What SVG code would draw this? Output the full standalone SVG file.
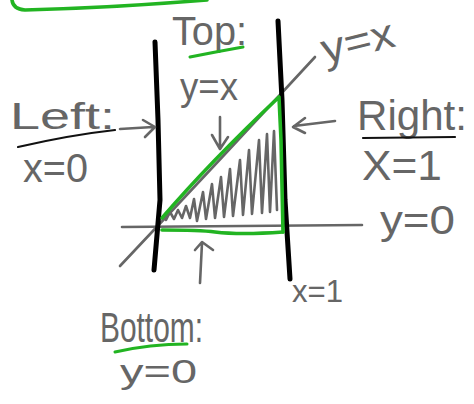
<svg xmlns="http://www.w3.org/2000/svg" width="474" height="404" viewBox="0 0 474 404">
<style>
.g{fill:none;stroke:#666;stroke-width:2.6;stroke-linecap:round;stroke-linejoin:round}
.k{fill:none;stroke:#000;stroke-width:5;stroke-linecap:round;stroke-linejoin:round}
.kt{fill:none;stroke:#111;stroke-width:2.2;stroke-linecap:round}
.gr{fill:none;stroke:#22b422;stroke-width:3.6;stroke-linecap:round;stroke-linejoin:round}
.grt{fill:none;stroke:#22b422;stroke-width:3;stroke-linecap:round}
.t{font-family:"Liberation Sans","DejaVu Sans",sans-serif;fill:#666}
</style>
<rect width="474" height="404" fill="#fff"/>
<g id="box-top">
<path class="gr" d="M12,0 Q13,9 25,10 Q110,8 207,0"/>
</g>
<g id="axes">
<path class="g" d="M120,266 Q220,160 315,57"/>
<path class="g" d="M122,227 L362,225"/>
<path class="k" d="M155,42 L158,120 L160,200 L154,270"/>
<path class="k" d="M278,21 L282,100 L285,200 L290,279"/>
</g>
<g id="region">
<path class="g" stroke-width="2" d="M166,220 L170,212 L174,219 L178,210 L182,218 L186,206 L190,218 L194,199 L197,221 L203,192 L206,219 L212,184 L215,218 L221,177 L224,217 L230,169 L233,216 L240,160 L243,215 L249,150 L252,214 L259,140 L262,213 L267,134 L270,212 L274,131 L277,210"/>
<path class="gr" d="M162,218 Q210,162 279,97 L281,140 L283,232"/>
<path class="gr" d="M162,230 Q200,230 215,232 Q240,235 283,232"/>
</g>
<g id="top-label">
<text class="t" x="172" y="45" font-size="40" textLength="75" lengthAdjust="spacingAndGlyphs">Top:</text>
<path class="grt" d="M190,57 Q215,52 243,47"/>
<text class="t" x="180" y="100" font-size="38" textLength="58" lengthAdjust="spacingAndGlyphs">y=x</text>
</g>
<g id="line-label">
<text class="t" x="325" y="64" font-size="42" textLength="74" lengthAdjust="spacingAndGlyphs" transform="rotate(-14 325 64)">y=x</text>
</g>
<g id="left-label">
<text class="t" x="10" y="129" font-size="37" textLength="105" lengthAdjust="spacingAndGlyphs">Left:</text>
<path class="kt" d="M18,147 Q70,135 115,130"/>
<text class="t" x="23" y="182" font-size="40" textLength="65" lengthAdjust="spacingAndGlyphs">x=0</text>
</g>
<g id="right-label">
<text class="t" x="357" y="130" font-size="42" textLength="110" lengthAdjust="spacingAndGlyphs">Right:</text>
<path class="kt" d="M363,138 L455,137"/>
<text class="t" x="362" y="180" font-size="42" textLength="80" lengthAdjust="spacingAndGlyphs">X=1</text>
</g>
<g id="y0-label">
<text class="t" x="380" y="234" font-size="40" textLength="75" lengthAdjust="spacingAndGlyphs">y=0</text>
</g>
<g id="x1-label">
<text class="t" x="292" y="302" font-size="32" textLength="51" lengthAdjust="spacingAndGlyphs">x=1</text>
</g>
<g id="bottom-label">
<text class="t" x="100" y="342" font-size="42" textLength="103" lengthAdjust="spacingAndGlyphs">Bottom:</text>
<path class="grt" d="M115,352 Q150,344 187,344"/>
<text class="t" x="120" y="383" font-size="34" textLength="77" lengthAdjust="spacingAndGlyphs">y=0</text>
</g>
<g id="connectors">
<path class="g" d="M220,117 L220,148 M212,135 L220,149 L228,137"/>
<path class="g" d="M120,129 L153,127 M143,120 L155,127 L145,137"/>
<path class="g" d="M335,121 L294,126 M305,118 L293,127 L305,133"/>
<path class="g" d="M200,283 L202,243 M195,250 L202,242 L213,250"/>
</g>
</svg>
